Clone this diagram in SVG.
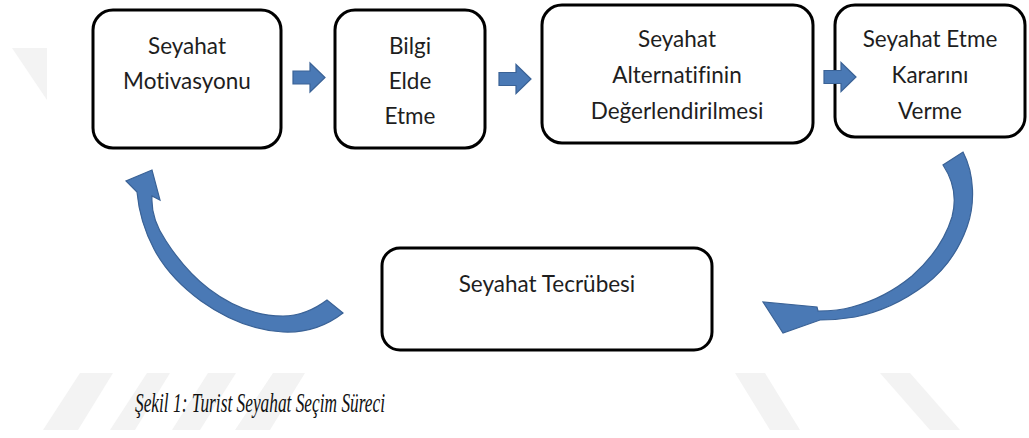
<svg xmlns="http://www.w3.org/2000/svg" width="1029" height="438" viewBox="0 0 1029 438">
<style>
.box{fill:#fff;stroke:#000;stroke-width:3}
.lbl{font-family:Lato,"Open Sans","Liberation Sans",sans-serif;font-size:22.5px;fill:#1e1e1e;text-anchor:middle;font-variant-ligatures:none}
.wm{fill:#f3f3f3}
.arr{fill:#4a79b5;stroke:#3a6296;stroke-width:1.2}
.cap{font-family:"Liberation Serif",serif;font-style:italic;font-size:27px;fill:#111}
</style>
<defs>
<path id="sa" d="M0,-6.5 H17 V-14.5 L32,0 L17,14.5 V6.5 H0 Z"/>
</defs>
<g id="watermark">
<polygon class="wm" points="12,48 47,48 47,100"/>
<polygon class="wm" points="80,373 113,373 78,430 43,430"/>
<polygon class="wm" points="147,373 170,373 135,430 110,430"/>
<polygon class="wm" points="208,373 236,373 200,430 172,430"/>
<polygon class="wm" points="273,373 305,373 270,430 235,430"/>
<polygon class="wm" points="735,373 765,373 800,430 770,430"/>
<polygon class="wm" points="880,373 910,373 960,430 930,430"/>
</g>
<g id="n1"><rect class="box" x="93" y="10" width="188" height="138" rx="20"/>
<text class="lbl" x="187" y="54">Seyahat</text><text class="lbl" x="187" y="89">Motivasyonu</text></g>
<g id="n2"><rect class="box" x="335" y="10" width="150" height="138" rx="20"/>
<text class="lbl" x="410" y="54">Bilgi</text><text class="lbl" x="410" y="89">Elde</text><text class="lbl" x="410" y="124">Etme</text></g>
<g id="n3"><rect class="box" x="542" y="5" width="271" height="138" rx="20"/>
<text class="lbl" x="677" y="47">Seyahat</text><text class="lbl" x="677" y="83">Alternatifinin</text><text class="lbl" x="677" y="119">Değerlendirilmesi</text></g>
<g id="n4"><rect class="box" x="835" y="5" width="190" height="132" rx="20"/>
<text class="lbl" x="930" y="47">Seyahat Etme</text><text class="lbl" x="930" y="83">Kararını</text><text class="lbl" x="930" y="119">Verme</text></g>
<g id="n5"><rect class="box" x="382" y="248" width="330" height="102" rx="18"/>
<text class="lbl" x="547" y="292">Seyahat Tecrübesi</text></g>
<g id="connectors">
<use href="#sa" class="arr" x="293" y="77.5"/>
<use href="#sa" class="arr" x="499" y="79"/>
<use href="#sa" class="arr" x="824" y="77"/>
<path class="arr" d="M343,313 C325,327 305,333 283,332 C250,330 222,316 201,301 C182,287 165,270 154,249 C145,232 139,214 137,192 L126,181 L152,170 L160,200 L152,196 C151,212 157,228 166,241 C177,258 192,276 209,289 C230,305 255,316 283,316 C300,316 315,309 327,300 Z"/>
<path class="arr" d="M963,152 C975,175 975,205 967,227 C958,252 945,270 925,285 C905,300 880,312 855,317 C843,319 830,320 820,320 L783,333 L763,302 L817,307 L818,311 C830,311 842,310 852,307 C875,301 895,290 912,276 C930,260 945,240 952,217 C957,198 953,180 943,165 Z"/>
</g>
<text class="cap" x="135" y="412" textLength="250" lengthAdjust="spacingAndGlyphs">Şekil 1: Turist Seyahat Seçim Süreci</text>
</svg>
